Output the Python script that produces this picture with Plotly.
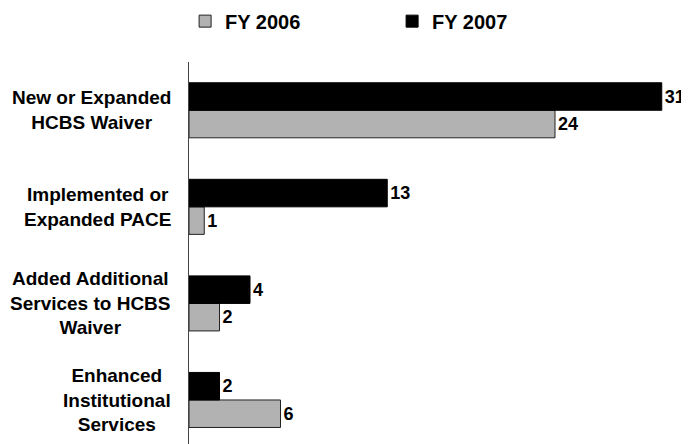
import plotly.graph_objects as go

categories = [
    "New or Expanded<br>HCBS Waiver",
    "Implemented or<br>Expanded PACE",
    "Added Additional<br>Services to HCBS<br>Waiver",
    "Enhanced<br>Institutional<br>Services",
]
fy2006 = [24, 1, 2, 6]
fy2007 = [31, 13, 4, 2]
series_names = ["FY 2006", "FY 2007"]

FONT = "Liberation Sans, Arial, sans-serif"

fig = go.Figure()
fig.add_trace(go.Bar(
    name=series_names[0], y=categories, x=fy2006, orientation="h",
    marker=dict(color="#b2b2b2", line=dict(color="#222222", width=1)),
    text=fy2006, textposition="outside", cliponaxis=False, constraintext="none",
    textfont=dict(family=FONT, size=18, color="black", weight="bold"),
))
fig.add_trace(go.Bar(
    name=series_names[1], y=categories, x=fy2007, orientation="h",
    marker=dict(color="#000000", line=dict(color="#000000", width=1)),
    text=fy2007, textposition="outside", cliponaxis=False, constraintext="none",
    textfont=dict(family=FONT, size=18, color="black", weight="bold"),
))

for c in categories:
    fig.add_annotation(
        x=-16 / 488, xref="paper", y=c, yref="y", text=c, showarrow=False,
        xanchor="right", yanchor="middle", align="center",
        font=dict(family=FONT, size=19, color="black", weight="bold"),
    )

fig.update_layout(
    width=681, height=436,
    margin=dict(l=181, r=12, t=54, b=0, autoexpand=False),
    paper_bgcolor="white", plot_bgcolor="white",
    barmode="group", bargap=0.43, bargroupgap=0,
    showlegend=True,
    legend=dict(
        orientation="h", x=-0.008, xanchor="left", y=1.107, yanchor="middle",
        font=dict(family=FONT, size=20, color="black", weight="bold"),
        entrywidth=162, entrywidthmode="pixels", traceorder="normal",
        bgcolor="rgba(0,0,0,0)",
    ),
    xaxis=dict(range=[0, 32], showgrid=False, zeroline=False, showticklabels=False,
               showline=False, ticks=""),
    yaxis=dict(categoryorder="array", categoryarray=categories[::-1],
               range=[-0.456, 3.5], showgrid=False, zeroline=False,
               showticklabels=False, showline=True, linecolor="#444444", linewidth=1,
               ticks=""),
)

fig.write_html("out.html")
